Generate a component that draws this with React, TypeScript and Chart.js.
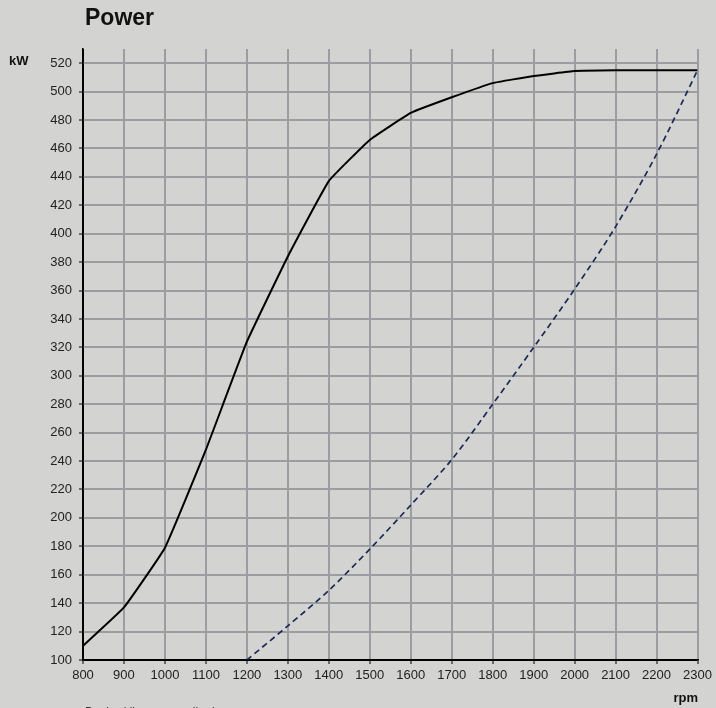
import React, { useEffect, useRef } from "react";
import { Chart, registerables } from "chart.js";

Chart.register(...registerables);

const rpmValues = [800, 900, 1000, 1100, 1200, 1300, 1400, 1500, 1600, 1700, 1800, 1900, 2000, 2100, 2200, 2300];
const powerKw = [110, 137, 179, 248, 324, 384, 437, 466, 485, 496, 506, 511, 514.5, 515, 515, 515];
const propRpm = [1200, 1300, 1400, 1500, 1600, 1700, 1800, 1900, 2000, 2100, 2200, 2300];
const propKw = [100, 124, 149, 178, 209, 241, 280, 320, 361, 405, 456, 515];
const yTickValues = [100, 120, 140, 160, 180, 200, 220, 240, 260, 280, 300, 320, 340, 360, 380, 400, 420, 440, 460, 480, 500, 520];
const xTickValues = [800, 900, 1000, 1100, 1200, 1300, 1400, 1500, 1600, 1700, 1800, 1900, 2000, 2100, 2200, 2300];

const titleText = "Power";
const yUnit = "kW";
const xUnit = "rpm";
const noteText = "Dashed line = propeller law";

const BG = "#d3d4d1";
const GRID = "#9c9da0";
const FONT = "'Liberation Sans', Arial, Helvetica, sans-serif";

export default function App() {
  const ref = useRef<HTMLCanvasElement | null>(null);

  useEffect(() => {
    if (!ref.current) return;
    const textPlugin = {
      id: "texts",
      beforeDraw(chart: any) {
        const ctx = chart.ctx;
        ctx.save();
        ctx.fillStyle = BG;
        ctx.fillRect(0, 0, chart.width, chart.height);
        ctx.restore();
      },
      afterDraw(chart: any) {
        const ctx = chart.ctx;
        ctx.save();
        ctx.fillStyle = "#111";
        ctx.textBaseline = "alphabetic";
        ctx.textAlign = "left";
        ctx.font = `bold 23px ${FONT}`;
        ctx.fillText(titleText, 85, 25);
        ctx.font = `bold 13px ${FONT}`;
        ctx.fillText(yUnit, 9, 65);
        ctx.textAlign = "right";
        ctx.fillText(xUnit, 698, 702);
        ctx.textAlign = "left";
        ctx.font = `12px ${FONT}`;
        ctx.fillStyle = "#333";
        ctx.fillText(noteText, 85, 716);
        ctx.restore();
      },
    };

    const chart = new Chart(ref.current, {
      type: "line",
      data: {
        datasets: [
          {
            label: "Power",
            data: rpmValues.map((x, i) => ({ x, y: powerKw[i] })),
            borderColor: "#000",
            borderWidth: 2,
            pointRadius: 0,
            tension: 0.1,
            fill: false,
          },
          {
            label: "Propeller",
            data: propRpm.map((x, i) => ({ x, y: propKw[i] })),
            borderColor: "#1b2a55",
            borderWidth: 1.7,
            borderDash: [6, 4],
            pointRadius: 0,
            tension: 0.3,
            fill: false,
          },
        ],
      },
      options: {
        animation: false,
        responsive: false,
        maintainAspectRatio: false,
        layout: { padding: { left: 0, top: 49, right: 17, bottom: 0 } },
        plugins: { legend: { display: false }, tooltip: { enabled: false }, title: { display: false } },
        scales: {
          x: {
            type: "linear",
            min: 800,
            max: 2300,
            afterBuildTicks: (axis: any) => {
              axis.ticks = xTickValues.map((v) => ({ value: v }));
            },
            afterFit: (scale: any) => {
              scale.height = 48;
            },
            ticks: {
              color: "#222",
              font: { family: FONT, size: 13 },
              padding: 4,
              maxRotation: 0,
              autoSkip: false,
              callback: (v: any) => String(v),
            },
            grid: {
              color: (c: any) => (c.tick && c.tick.value === 800 ? "#000" : GRID),
              lineWidth: 2,
              tickLength: 4,
              tickColor: "#000",
              tickWidth: 1,
            },
            border: { color: "#000", width: 1.5 },
          },
          y: {
            type: "linear",
            min: 100,
            max: 530,
            afterBuildTicks: (axis: any) => {
              axis.ticks = yTickValues.map((v) => ({ value: v }));
            },
            afterFit: (scale: any) => {
              scale.width = 83;
            },
            ticks: {
              color: "#222",
              font: { family: FONT, size: 13 },
              padding: 7,
              autoSkip: false,
              callback: (v: any) => String(v),
            },
            grid: {
              color: (c: any) => (c.tick && c.tick.value === 100 ? "#000" : GRID),
              lineWidth: 2,
              tickLength: 4,
              tickColor: "#000",
              tickWidth: 1,
            },
            border: { color: "#000", width: 1.5 },
          },
        },
      },
      plugins: [textPlugin],
    } as any);
    return () => chart.destroy();
  }, []);

  return (
    <div style={{ position: "fixed", left: 0, top: 0, width: 716, height: 708, overflow: "hidden", background: BG }}>
      <canvas ref={ref} width={716} height={708} style={{ display: "block", width: 716, height: 708 }} />
    </div>
  );
}
